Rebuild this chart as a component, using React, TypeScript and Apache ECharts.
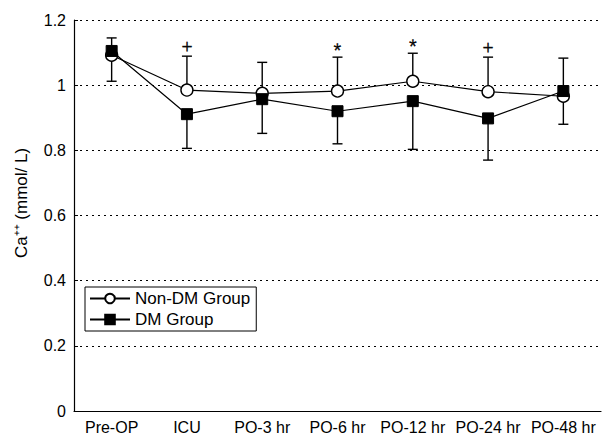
import React, { useEffect, useRef } from "react";
import * as echarts from "echarts";

const categories = ["Pre-OP", "ICU", "PO-3 hr", "PO-6 hr", "PO-12 hr", "PO-24 hr", "PO-48 hr"];
const nonDM = [1.092, 0.985, 0.975, 0.982, 1.012, 0.98, 0.966];
const dm = [1.105, 0.911, 0.957, 0.92, 0.951, 0.898, 0.982];
const nonDMUpper = [1.145, 1.089, 1.07, 1.086, 1.098, 1.086, 1.083];
const dmLower = [1.012, 0.806, 0.852, 0.82, 0.803, 0.77, 0.88];
const marks = ["", "+", "", "*", "*", "+", ""];
const yTicks = { min: 0, max: 1.2, interval: 0.2 };

const FONT = "Liberation Sans, Arial, sans-serif";

function errorRender(showMarks: boolean) {
  return (params: any, api: any) => {
    const idx = api.value(0);
    const p1 = api.coord([idx, api.value(1)]);
    const p2 = api.coord([idx, api.value(2)]);
    const x = p1[0];
    const style = { stroke: "#000", lineWidth: 1.4, fill: "none" };
    const children: any[] = [
      { type: "line", shape: { x1: x, y1: p1[1], x2: x, y2: p2[1] }, style },
      { type: "line", shape: { x1: x - 5, y1: p2[1], x2: x + 5, y2: p2[1] }, style },
    ];
    const m = marks[params.dataIndex];
    if (showMarks && m) {
      children.push({
        type: "text",
        x: x,
        y: p2[1] - (m === "*" ? 7 : 10),
        rotation: 0.002,
        style: {
          text: m,
          fill: "#000",
          stroke: "#000",
          lineWidth: 0.3,
          opacity: 0.99,
          font: m === "*" ? `20px ${FONT}` : `15px DejaVu Sans, sans-serif`,
          align: "center",
          verticalAlign: "middle",
        },
      });
    }
    return { type: "group", children };
  };
}

export default function App() {
  const ref = useRef<HTMLDivElement>(null);
  useEffect(() => {
    if (!ref.current) return;
    const chart = echarts.init(ref.current, null, { renderer: "svg" });
    chart.setOption({
      animation: false,
      backgroundColor: "#fff",
      color: ["#000", "#000", "#000", "#000"],
      textStyle: { fontFamily: FONT, color: "#000" },
      grid: { left: 74, right: 2, top: 20, bottom: 28 },
      graphic: [
        {
          type: "text",
          x: 21,
          y: 203,
          rotation: Math.PI / 2,
          style: {
            text: "Ca⁺⁺ (mmol/ L)",
            fill: "#000",
            font: `17px ${FONT}`,
            align: "center",
            verticalAlign: "middle",
          },
        },
      ],
      legend: {
        orient: "vertical",
        left: 85,
        top: 287,
        padding: [3, 6, 3, 4],
        itemGap: 4,
        itemWidth: 40,
        itemHeight: 12,
        borderColor: "#000",
        borderWidth: 1,
        textStyle: { fontSize: 17, color: "#000", fontFamily: FONT },
        data: ["Non-DM Group", "DM Group"],
      },
      xAxis: {
        type: "category",
        data: categories,
        boundaryGap: true,
        axisLine: { lineStyle: { color: "#000", width: 1.2 } },
        axisTick: { inside: true, length: 4, interval: 0, lineStyle: { color: "#000" } },
        axisLabel: { color: "#000", fontSize: 16, fontFamily: FONT, margin: 8, interval: 0 },
      },
      yAxis: {
        type: "value",
        min: yTicks.min,
        max: yTicks.max,
        interval: yTicks.interval,
        axisLine: { show: true, lineStyle: { color: "#000", width: 1.2 } },
        axisTick: { show: true, inside: true, length: 4, lineStyle: { color: "#000" } },
        axisLabel: { color: "#000", fontSize: 16, fontFamily: FONT, margin: 8 },
        splitLine: { show: true, lineStyle: { type: [2, 4], color: "#000", width: 1.2 } },
      },
      series: [
        {
          type: "custom",
          name: "errUp",
          renderItem: errorRender(true),
          data: nonDM.map((v, i) => [i, v, nonDMUpper[i]]),
          itemStyle: { color: "#000" },
          z: 1,
          silent: true,
        },
        {
          type: "custom",
          name: "errDown",
          renderItem: errorRender(false),
          data: dm.map((v, i) => [i, v, dmLower[i]]),
          itemStyle: { color: "#000" },
          z: 1,
          silent: true,
        },
        {
          type: "line",
          name: "Non-DM Group",
          data: nonDM,
          symbol: "circle",
          symbolSize: 12,
          showAllSymbol: true,
          lineStyle: { color: "#000", width: 1.2 },
          itemStyle: { color: "#fff", borderColor: "#000", borderWidth: 1.4 },
          z: 3,
        },
        {
          type: "line",
          name: "DM Group",
          data: dm,
          symbol: "rect",
          symbolSize: 11,
          showAllSymbol: true,
          lineStyle: { color: "#000", width: 1.2 },
          itemStyle: { color: "#000", borderColor: "#000", borderWidth: 1 },
          z: 4,
        },
      ],
    });
    return () => chart.dispose();
  }, []);
  return (
    <div
      ref={ref}
      style={{ position: "absolute", left: 0, top: 0, width: 603, height: 439 }}
    />
  );
}
